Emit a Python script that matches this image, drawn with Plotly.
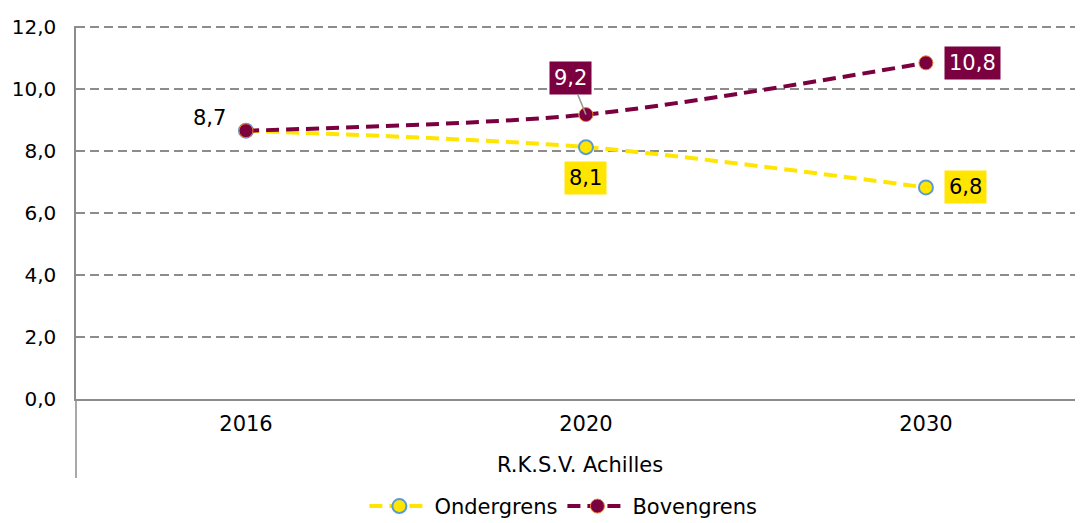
import plotly.graph_objects as go

years = ["2016", "2020", "2030"]
group_label = "R.K.S.V. Achilles"
ondergrens = [8.66, 8.13, 6.83]
bovengrens = [8.66, 9.18, 10.85]
ondergrens_name = "Ondergrens"
bovengrens_name = "Bovengrens"

MAROON = "#7A0040"
YELLOW = "#FFE500"
BLUE = "#5B9BD5"
GRID = "#8C8C8C"
FONT = "DejaVu Sans"
FS = 21

fig = go.Figure()
fig.add_trace(go.Scatter(
    x=years, y=ondergrens, name=ondergrens_name, mode="lines+markers",
    line=dict(color=YELLOW, width=4, dash="13px,7px", shape="spline", smoothing=0.8),
    marker=dict(size=14, color=YELLOW, line=dict(color=BLUE, width=2)),
))
fig.add_trace(go.Scatter(
    x=years, y=bovengrens, name=bovengrens_name, mode="lines+markers",
    line=dict(color=MAROON, width=4, dash="13px,7px", shape="spline", smoothing=0.8),
    marker=dict(size=14, color=MAROON, line=dict(color="#ED7D31", width=1)),
))

def fmt(v):
    return f"{v:.1f}".replace(".", ",")

# data labels (x given as category index)
fig.add_annotation(x=0, y=bovengrens[0], text=fmt(bovengrens[0]), showarrow=False,
                   xshift=-36, yshift=13, font=dict(size=FS, color="#000", family=FONT))
fig.add_annotation(x=1, y=bovengrens[1], text=fmt(bovengrens[1]), showarrow=True,
                   arrowhead=0, arrowwidth=1.5, arrowcolor="#999999", ax=-15, ay=-37,
                   bgcolor=MAROON, borderpad=4, font=dict(size=FS, color="white", family=FONT))
fig.add_annotation(x=1, y=ondergrens[1], text=fmt(ondergrens[1]), showarrow=False,
                   yshift=-31, bgcolor=YELLOW, borderpad=4,
                   font=dict(size=FS, color="#000", family=FONT))
fig.add_annotation(x=2, y=bovengrens[2], text=fmt(bovengrens[2]), showarrow=False,
                   xshift=47, yshift=0, bgcolor=MAROON, borderpad=4,
                   font=dict(size=FS, color="white", family=FONT))
fig.add_annotation(x=2, y=ondergrens[2], text=fmt(ondergrens[2]), showarrow=False,
                   xshift=40, yshift=0, bgcolor=YELLOW, borderpad=4,
                   font=dict(size=FS, color="#000", family=FONT))

# group label under category axis
fig.add_annotation(x=0.5, xref="paper", y=-0.176, yref="paper", yanchor="middle",
                   text=group_label, showarrow=False,
                   font=dict(size=FS, color="#000", family=FONT))
# extended left axis line (category group divider)
fig.add_shape(type="line", xref="paper", yref="paper", x0=0, x1=0, y0=0, y1=-0.212,
              line=dict(color=GRID, width=1.5))

# page body has an 8px margin, so the figure is sized/offset to compensate
fig.update_layout(
    width=1075, height=515,
    margin=dict(l=68, r=0, t=18, b=124, autoexpand=False),
    paper_bgcolor="white", plot_bgcolor="white",
    separators=",.",
    font=dict(family=FONT, size=FS, color="#000"),
    showlegend=True,
    legend=dict(orientation="h", x=0.484, xanchor="center", y=-0.288, yanchor="middle",
                font=dict(size=FS, family=FONT), tracegroupgap=0, itemwidth=60),
    xaxis=dict(type="category", range=[-0.5, 2.462], showgrid=False, automargin=False,
               showline=True, linecolor=GRID, linewidth=1.5, ticks="",
               tickfont=dict(size=FS, family=FONT), ticklabelstandoff=5),
    yaxis=dict(range=[0, 12.04], tickvals=[0, 2, 4, 6, 8, 10, 12], tickformat=".1f",
               automargin=False,
               showgrid=True, gridcolor=GRID, griddash="9px,5px", gridwidth=1.5,
               showline=True, linecolor=GRID, linewidth=1.5, zeroline=False,
               ticks="", tickfont=dict(size=20, family=FONT), ticklabelstandoff=14),
)

fig.write_html("out.html")
